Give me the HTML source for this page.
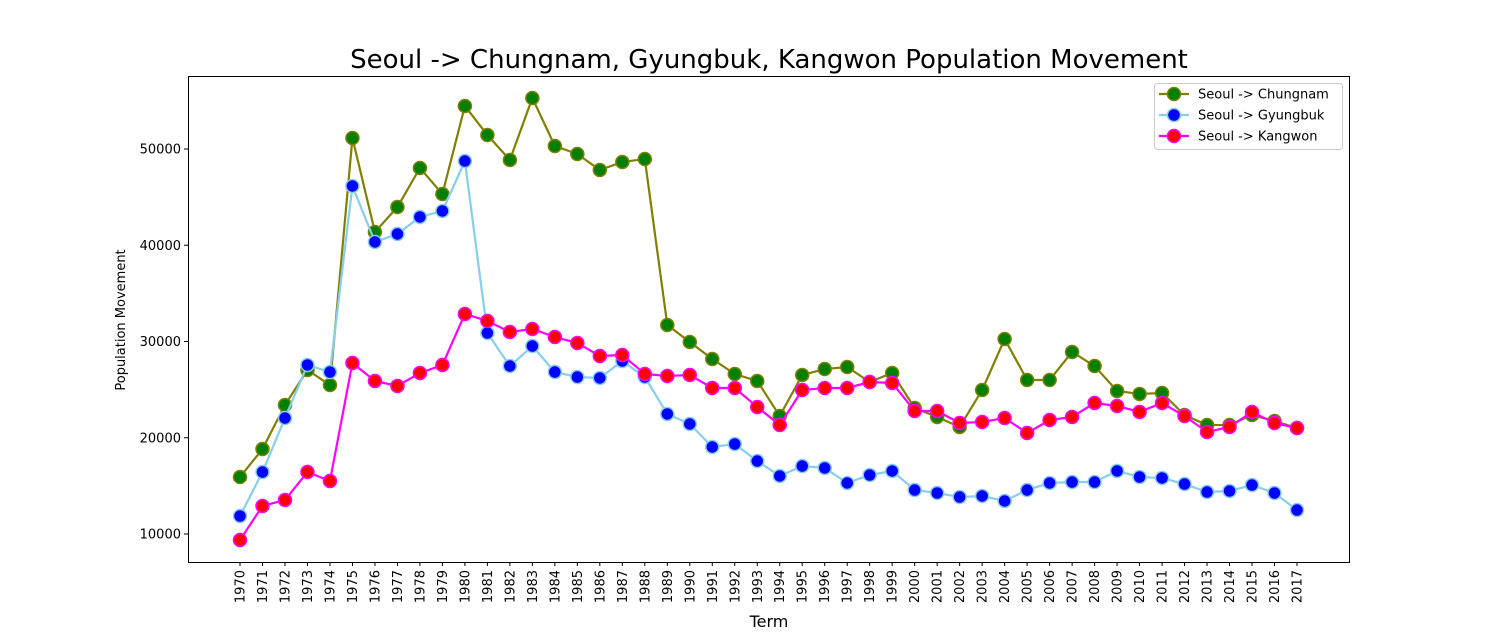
<!DOCTYPE html>
<html><head><meta charset="utf-8"><style>
html,body{margin:0;padding:0;background:#fff;}
svg{display:block;font-family:"DejaVu Sans","Liberation Sans",sans-serif;}
</style></head><body>
<svg id="chart" width="1500" height="632" viewBox="0 0 1500 632" xmlns="http://www.w3.org/2000/svg">
<rect x="0" y="0" width="1500" height="632" fill="#fff"/>
<text x="769" y="68" font-size="26" text-anchor="middle" fill="#000">Seoul -&gt; Chungnam, Gyungbuk, Kangwon Population Movement</text>
<g id="plot"></g>
<rect x="188.5" y="76.5" width="1161" height="486" fill="none" stroke="#000" stroke-width="1"/>
<text x="769" y="627" font-size="16" text-anchor="middle">Term</text>
<text transform="translate(125,320) rotate(-90)" font-size="13" text-anchor="middle">Population Movement</text>
<g id="legend">
<rect x="1154.5" y="83.5" width="188" height="66" rx="3" fill="#fff" fill-opacity="0.8" stroke="#ccc"/>
</g>
</svg>
<script>
const years = [];
for (let y = 1970; y <= 2017; y++) years.push(y);
const chungnam = [15920,18830,23400,27040,25480,51140,41380,43970,48030,45320,54470,51450,48860,55300,50310,49480,47820,48650,48960,31710,29950,28180,26620,25900,22260,26520,27140,27350,25790,26730,23090,22160,21120,24960,30260,26000,26000,28910,27450,24860,24550,24650,22360,21320,21320,22360,21740,21010];
const gyungbuk = [11870,16440,22050,27560,26830,46160,40340,41170,42940,43560,48750,30880,27450,29530,26830,26310,26210,27970,26310,22470,21430,19040,19350,17580,16030,17060,16860,15300,16130,16550,14570,14260,13840,13950,13430,14570,15300,15400,15400,16550,15920,15820,15190,14360,14470,15090,14260,12490];
const kangwon = [9380,12910,13530,16440,15510,27770,25900,25380,26730,27560,32860,32130,30990,31300,30470,29840,28490,28600,26620,26420,26520,25170,25170,23190,21320,24960,25170,25170,25790,25690,22780,22780,21530,21640,22050,20490,21840,22160,23610,23300,22680,23610,22260,20600,21120,22680,21530,21010];
const yTicks = [10000,20000,30000,40000,50000];
const seriesNames = ["Seoul -> Chungnam","Seoul -> Gyungbuk","Seoul -> Kangwon"];

const NS = "http://www.w3.org/2000/svg";
const plot = document.getElementById("plot");
const x0 = 240, xStep = (1297 - 240) / 47;
function xScale(i) { return x0 + i * xStep; }
function yScale(v) { return 534 - (v - 10000) * 0.009625; }
function mk(tag, attrs, parent) {
  const e = document.createElementNS(NS, tag);
  for (const k in attrs) e.setAttribute(k, attrs[k]);
  parent.appendChild(e);
  return e;
}
yTicks.forEach(t => {
  const y = yScale(t);
  const ln = mk("line", {x1:184, x2:188, y1:y, y2:y, stroke:"#000"}, plot);
  
  
  const tx = mk("text", {x:181, y:y+4.5, "font-size":13, "text-anchor":"end"}, plot);
  
  
  tx.textContent = t;
});
years.forEach((yr, i) => {
  const x = xScale(i);
  const ln = mk("line", {x1:x, x2:x, y1:562, y2:566, stroke:"#000"}, plot);
  
  
  const tx = mk("text", {transform:"translate(" + (x+4.5) + ",570) rotate(-90)", "font-size":13, "text-anchor":"end"}, plot);
  
  
  tx.textContent = yr;
});
const styles = [
  {data: chungnam, line:"#808000", face:"#008000", edge:"#808000", name:"chungnam"},
  {data: gyungbuk, line:"#87ceeb", face:"#0000ff", edge:"#87ceeb", name:"gyungbuk"},
  {data: kangwon, line:"#ff00ff", face:"#ff0000", edge:"#ff00ff", name:"kangwon"}
];
styles.forEach(s => {
  const g = mk("g", {}, plot);
  
  
  const pts = s.data.map((v, i) => xScale(i) + "," + yScale(v)).join(" ");
  const pl = mk("polyline", {points:pts, fill:"none", stroke:s.line, "stroke-width":2.2}, g);
  
  
  s.data.forEach((v, i) => {
    const c = mk("circle", {cx:xScale(i), cy:yScale(v), r:6.5, fill:s.face, stroke:s.edge, "stroke-width":1.5}, g);
    
    
  });
});
const legend = document.getElementById("legend");
styles.forEach((s, k) => {
  const y = 94 + k * 21;
  const ln = mk("line", {x1:1159, x2:1189, y1:y, y2:y, stroke:s.line, "stroke-width":2.2}, legend);
  
  
  const c = mk("circle", {cx:1174, cy:y, r:6.5, fill:s.face, stroke:s.edge, "stroke-width":1.5}, legend);
  
  
  const t = mk("text", {x:1198, y:y+4.5, "font-size":13}, legend);
  
  
  t.textContent = seriesNames[k];
});
</script>
</body></html>
